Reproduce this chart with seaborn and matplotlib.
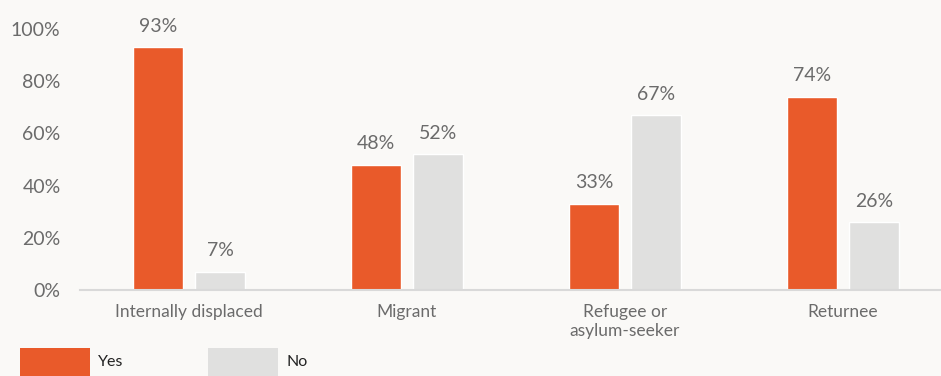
import matplotlib
matplotlib.use("Agg")
import matplotlib.pyplot as plt
import seaborn as sns
import pandas as pd
from matplotlib.patches import Rectangle
from matplotlib.ticker import FixedLocator

categories = ["Internally displaced", "Migrant", "Refugee or\nasylum-seeker", "Returnee"]
yes_values = [93, 48, 33, 74]
no_values = [7, 52, 67, 26]
series = ["Yes", "No"]
yticks = [0, 20, 40, 60, 80, 100]

BG = "#faf9f7"
ORANGE = "#e95a2a"
GRAY = "#e0e0df"
TXT = "#6b6b6b"

df = pd.DataFrame({
    "category": categories * 2,
    "answer": ["Yes"] * len(categories) + ["No"] * len(categories),
    "value": yes_values + no_values,
})

sns.set_theme(style="white")
plt.rcParams["font.family"] = ["Lato", "DejaVu Sans"]

fig = plt.figure(figsize=(9.41, 3.76), dpi=100, facecolor=BG)
W, H = 941, 376
ax = fig.add_axes([80 / W, (H - 290) / H, 861 / W, (290 - 29) / H])
ax.set_facecolor(BG)

sns.barplot(data=df, x="category", y="value", hue="answer", hue_order=series,
            palette={"Yes": ORANGE, "No": GRAY}, width=0.569, gap=0.194,
            order=categories, ax=ax, legend=False, saturation=1)

for c in ax.containers:
    labels = [f"{v:.0f}%" for v in c.datavalues]
    ax.bar_label(c, labels=labels, padding=9, fontsize=14, color=TXT, clip_on=False)

ax.set_xlim(-0.5, 3.45)
ax.set_ylim(0, 100)
ax.set_yticks(yticks)
ax.set_yticklabels([f"{t}%" for t in yticks])
ax.set_xlabel("")
ax.set_ylabel("")
for s in ["top", "right", "left"]:
    ax.spines[s].set_visible(False)
ax.spines["bottom"].set_color("#d9d9d9")
ax.spines["bottom"].set_linewidth(1.5)

ax.tick_params(axis="y", length=0, pad=14, labelsize=14, labelcolor=TXT)
ax.tick_params(axis="x", which="major", length=0, pad=10, labelsize=12.5, labelcolor=TXT)
ax.xaxis.set_minor_locator(FixedLocator([-0.5, 0.5, 1.5, 2.5]))
ax.tick_params(axis="x", which="minor", length=6, width=1.2, color="#d9d9d9", direction="out")
for lab in ax.get_xticklabels():
    lab.set_linespacing(1.25)

# legend
for i, (name, col) in enumerate(zip(series, [ORANGE, GRAY])):
    x0 = 20 + i * 188
    fig.add_artist(Rectangle((x0 / W, 0), 70 / W, (H - 348) / H, transform=fig.transFigure,
                             facecolor=col, edgecolor="none"))
    fig.text((x0 + 78) / W, (H - 362) / H, name, fontsize=11.5, color="#222222",
             va="center", ha="left")

fig.savefig("out.png", dpi=100, facecolor=BG)
